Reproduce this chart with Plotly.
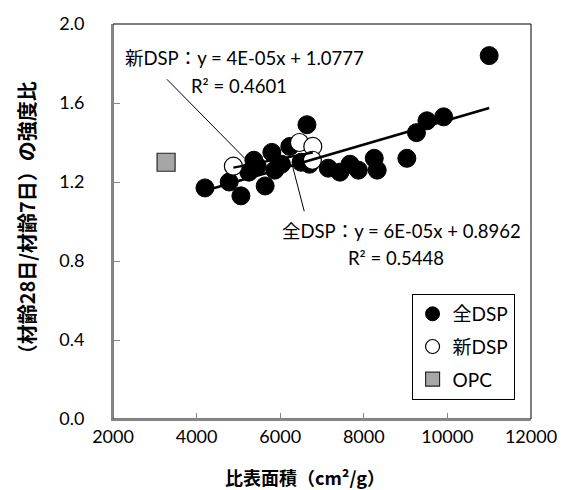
import plotly.graph_objects as go

# 全DSP: specific surface area (cm²/g) and 28d/7d strength ratio
all_dsp_x = [4200, 4780, 5060, 5250, 5370, 5450, 5640, 5800, 5870, 6030, 6230, 6640,
             6500, 6700, 7150, 7430, 7670, 7870, 8250, 8320, 9030, 9260, 9510, 9910, 11000]
all_dsp_y = [1.17, 1.20, 1.13, 1.25, 1.31, 1.28, 1.18, 1.35, 1.26, 1.29, 1.38, 1.49,
             1.30, 1.29, 1.27, 1.25, 1.29, 1.26, 1.32, 1.26, 1.32, 1.45, 1.51, 1.53, 1.84]

# 新DSP
new_dsp_x = [4880, 6460, 6780, 6770]
new_dsp_y = [1.28, 1.40, 1.38, 1.31]

# OPC
opc_x = [3270]
opc_y = [1.30]

# linear trendline coefficients (slope, intercept)
all_fit = (6.17e-05, 0.8962)
new_fit = (4.0e-05, 1.0777)
all_eq = "全DSP：y = 6E-05x + 0.8962"
all_r2 = "R² = 0.5448"
new_eq = "新DSP：y = 4E-05x + 1.0777"
new_r2 = "R² = 0.4601"

x_ticks = [2000, 4000, 6000, 8000, 10000, 12000]
y_ticks = [0.0, 0.4, 0.8, 1.2, 1.6, 2.0]
y_tick_text = ["0.0", "0.4", "0.8", "1.2", "1.6", "2.0"]

x_title = "比表面積（cm²/g）"
y_title = "（材齢28日/材齢7日）の強度比"

W, H = 569, 490
ML, MR, MT, MB = 113, 29, 21, 71
TEXT_FONT = "Lato, 'Noto Sans CJK JP', sans-serif"
CJK_FONT = "'Noto Sans CJK JP', sans-serif"


def fit_line(xs, coef):
    lo, hi = min(xs), max(xs)
    return [lo, hi], [coef[1] + coef[0] * lo, coef[1] + coef[0] * hi]


def px_to_paper(px, py):
    return (px - ML) / (W - ML - MR), 1 - (py - MT) / (H - MT - MB)


all_marker = dict(symbol="circle", color="black", line=dict(color="black", width=1))
new_marker = dict(symbol="circle", color="white", line=dict(color="black", width=1.2))
opc_marker = dict(symbol="square", color="#a6a6a6", line=dict(color="#262626", width=1.2))

fig = go.Figure()
fig.add_trace(go.Scatter(x=all_dsp_x, y=all_dsp_y, mode="markers", name="全DSP",
                         showlegend=False, marker=dict(size=18, **all_marker)))
fig.add_trace(go.Scatter(x=new_dsp_x, y=new_dsp_y, mode="markers", name="新DSP",
                         showlegend=False, marker=dict(size=18, **new_marker)))
fig.add_trace(go.Scatter(x=opc_x, y=opc_y, mode="markers", name="OPC",
                         showlegend=False, marker=dict(size=18, **opc_marker)))

lx, ly = fit_line(all_dsp_x, all_fit)
fig.add_trace(go.Scatter(x=lx, y=ly, mode="lines", showlegend=False, hoverinfo="skip",
                         line=dict(color="black", width=2.6)))
lx, ly = fit_line(new_dsp_x, new_fit)
fig.add_trace(go.Scatter(x=lx, y=ly, mode="lines", showlegend=False, hoverinfo="skip",
                         line=dict(color="black", width=2.2)))

# legend entries with smaller symbols
for name, mk, grp in [("全DSP", all_marker, "a"), ("新DSP", new_marker, "b"), ("OPC", opc_marker, "c")]:
    fig.add_trace(go.Scatter(x=[None], y=[None], mode="markers", name=name, legendgroup=grp,
                             marker=dict(size=14, **mk)))

# leader lines from the equation labels to their trendlines
fig.add_shape(type="line", xref="x", yref="y", x0=3290, y0=1.72, x1=5160, y1=1.318,
              line=dict(color="black", width=1))
fig.add_shape(type="line", xref="x", yref="y", x0=6290, y0=all_fit[1] + all_fit[0] * 6290,
              x1=6575, y1=1.052, line=dict(color="black", width=1))

# plot-area frame (top / right edges in black)
fig.add_shape(type="rect", xref="paper", yref="paper", x0=0, y0=0, x1=1, y1=1,
              line=dict(color="black", width=1), layer="below")

for text, px, py in [(new_eq, 123, 55), (new_r2, 191, 83), (all_eq, 284, 230), (all_r2, 351, 257)]:
    ax, ay = px_to_paper(px, py)
    fig.add_annotation(text=text, x=ax, y=ay, xref="paper", yref="paper", showarrow=False,
                       xanchor="left", yanchor="middle",
                       font=dict(family=TEXT_FONT, size=18.5, color="black"))

# axis titles
ax, ay = px_to_paper(309, 477)
fig.add_annotation(text=x_title, x=ax, y=ay, xref="paper", yref="paper", showarrow=False,
                   xanchor="center", yanchor="middle",
                   font=dict(family=CJK_FONT, size=18, color="black", weight="bold"))
ax, ay = px_to_paper(25, 221)
fig.add_annotation(text=y_title, x=ax, y=ay, xref="paper", yref="paper", showarrow=False,
                   xanchor="center", yanchor="middle", textangle=-90,
                   font=dict(family=CJK_FONT, size=20, color="black", weight="bold"))

fig.update_layout(
    width=W, height=H,
    margin=dict(l=ML, r=MR, t=MT, b=MB),
    paper_bgcolor="white", plot_bgcolor="white",
    font=dict(family=TEXT_FONT, size=18, color="black"),
    showlegend=True,
    legend=dict(
        x=px_to_paper(418, 0)[0], y=px_to_paper(0, 293)[1], xanchor="left", yanchor="top",
        bgcolor="white", bordercolor="black", borderwidth=1,
        font=dict(family=TEXT_FONT, size=19, color="black"),
        tracegroupgap=5, itemsizing="trace", itemwidth=30,
    ),
)
fig.update_xaxes(
    range=[2000, 12000], tickvals=x_ticks, ticktext=[str(v) for v in x_ticks],
    showgrid=False, zeroline=False,
    showline=True, linecolor="#868686", linewidth=2,
    ticks="inside", ticklen=6, tickcolor="#868686", tickwidth=1,
    tickfont=dict(family=TEXT_FONT, size=18, color="black"),
)
fig.update_yaxes(
    range=[0, 2.0], tickvals=y_ticks, ticktext=y_tick_text,
    showgrid=False, zeroline=False,
    showline=True, linecolor="#868686", linewidth=2,
    ticks="inside", ticklen=7, tickcolor="#868686", tickwidth=1,
    tickfont=dict(family=TEXT_FONT, size=18, color="black"),
    ticklabelstandoff=23,
)

fig.write_html("out.html")
